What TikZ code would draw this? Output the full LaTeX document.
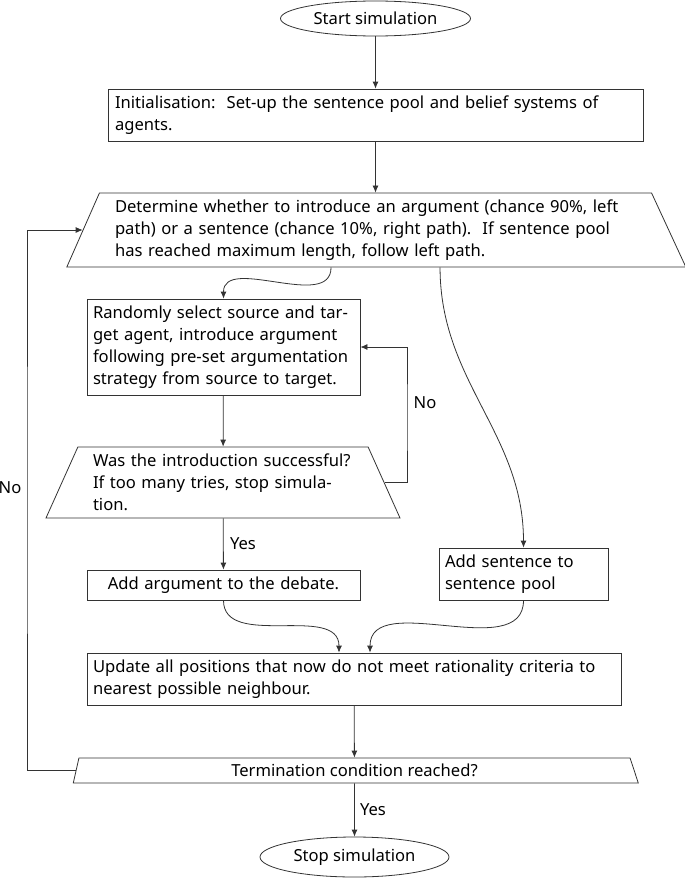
\documentclass[tikz,border=0pt]{standalone}
\usepackage{fontspec}
\setmainfont{Noto Sans}
\usetikzlibrary{shapes.geometric,arrows.meta}
\begin{document}
\begin{tikzpicture}[x=1pt,y=-1pt,
  font=\fontsize{16.6}{21.8}\selectfont,
  line/.style={draw=black!80,line width=0.8pt},
  arr/.style={line,-{Latex[length=7pt,width=6pt]}},
  box/.style={rectangle,draw=black!80,line width=0.8pt,align=left,inner ysep=0pt},
  term/.style={ellipse,draw=black!80,line width=0.8pt,inner sep=0pt},
  trap/.style={trapezium,draw=black!80,line width=0.8pt,trapezium stretches body=true,inner sep=0pt,align=left},
  lbl/.style={inner sep=0pt}]
\useasboundingbox (0,0) rectangle (685,878);

\node[term,minimum width=190pt,minimum height=35pt] (start) at (375.5,18.5) {Start simulation};

\node[box,minimum width=535pt,minimum height=52pt,text width=521pt,inner xsep=7pt] (init) at (375.5,115)
  {Initialisation:\ \ Set-up the sentence pool and belief systems of\\agents.};

\node[trap,trapezium left angle=61.6,trapezium right angle=60.4,minimum width=619pt,minimum height=74pt,text width=521pt] (d1) at (375.5,230)
  {Determine whether to introduce an argument (chance 90\%, left\\path) or a sentence (chance 10\%, right path).\ \ If sentence pool\\has reached maximum length, follow left path.};

\node[box,minimum width=273pt,minimum height=96pt,text width=261pt,inner xsep=6pt] (sel) at (223.5,347)
  {Randomly select source and tar-\\get agent, introduce argument\\following pre-set argumentation\\strategy from source to target.};

\node[trap,trapezium left angle=60.6,trapezium right angle=60.6,minimum width=354pt,minimum height=71pt,text width=260pt] (d2) at (223,482.5)
  {Was the introduction successful?\\If too many tries, stop simula-\\tion.};

\node[box,align=center,minimum width=273pt,minimum height=30pt,text width=261pt,inner xsep=6pt] (addarg) at (223.5,585)
  {Add argument to the debate.};

\node[box,minimum width=169pt,minimum height=52pt,text width=157pt,inner xsep=6pt] (addsen) at (523.5,574)
  {Add sentence to\\sentence pool};

\node[box,minimum width=534pt,minimum height=52pt,text width=522pt,inner xsep=6pt] (upd) at (354,679)
  {Update all positions that now do not meet rationality criteria to\\nearest possible neighbour.};

\node[trap,align=center,trapezium left angle=66.3,trapezium right angle=57.4,minimum width=565pt,minimum height=25pt] (dt) at (354.5,770.5)
  {Termination condition reached?};

\node[term,minimum width=189pt,minimum height=40pt] (stop) at (354.5,857) {Stop simulation};

\coordinate (lx) at (27,500);
\coordinate (rx) at (407,420);

\draw[arr] (start) -- (init);
\draw[arr] (init) -- (d1);
\draw[arr] ([xshift=-44.5pt]d1.south) to[out=-90,in=90] (sel.north);
\draw[arr] ([xshift=64.5pt]d1.south) to[out=-90,in=90] (addsen.north);
\draw[arr] (sel) -- (d2);
\draw[arr] (d2.east) -| (rx) |- (sel.east);
\draw[arr] (d2) -- (addarg);
\draw[arr] (addarg.south) to[out=-90,in=90] ([xshift=-15pt]upd.north);
\draw[arr] (addsen.south) to[out=-90,in=90] ([xshift=16pt]upd.north);
\draw[arr] (upd) -- (dt);
\draw[arr] (dt.west) -| (lx) |- (d1.west);
\draw[arr] (dt) -- (stop);

\node[lbl] (no1) at (425,403) {No};
\node[lbl] (no2) at (10,488) {No};
\node[lbl] (yes1) at (243,544) {Yes};
\node[lbl] (yes2) at (373,810) {Yes};
\end{tikzpicture}
\end{document}
